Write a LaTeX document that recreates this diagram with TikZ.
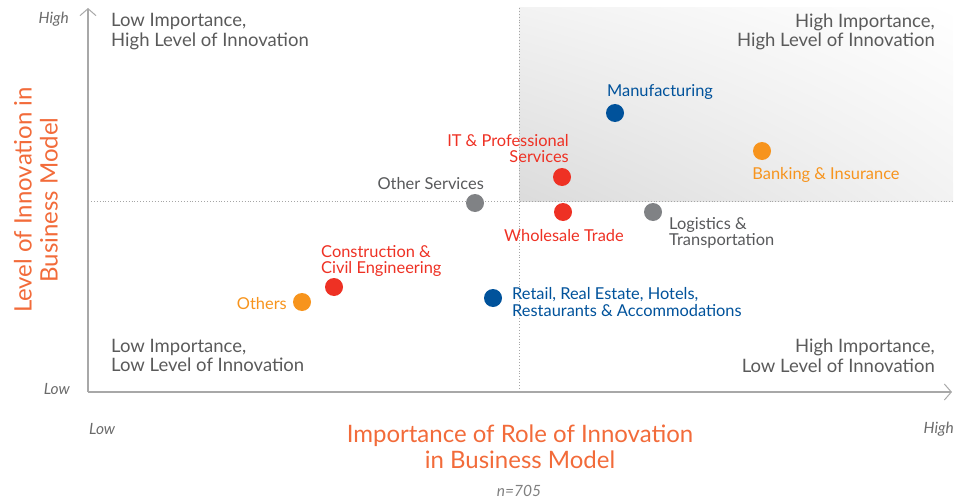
\documentclass[tikz,border=0pt]{standalone}
\usepackage{fontspec}
\setmainfont{Lato}
\usetikzlibrary{arrows.meta,shadings}
\definecolor{qgray}{HTML}{5A5A5A}
\definecolor{tgray}{HTML}{6A6A6A}
\definecolor{axgray}{HTML}{A8A8A8}
\definecolor{ttlorange}{HTML}{F26B3A}
\definecolor{dorange}{HTML}{F7941D}
\definecolor{dred}{HTML}{EE3124}
\definecolor{dblue}{HTML}{00529B}
\definecolor{dgray}{HTML}{808285}
\definecolor{lgray}{HTML}{58595B}
\tikzset{
  dot/.style={circle, fill=#1, minimum size=18pt, inner sep=0pt},
  lbl/.style={text=#1, font=\fontsize{16.4}{16.5}\selectfont, inner sep=0pt, align=left},
  quad/.style={text=qgray, font=\fontsize{18.5}{19.5}\selectfont, inner sep=0pt},
  tick/.style={text=tgray, font=\fontsize{15.5}{17}\selectfont\itshape, inner sep=0pt},
  ttl/.style={text=ttlorange, font=\fontsize{24}{26}\selectfont, inner sep=0pt, align=center},
  axis/.style={draw=axgray, line width=1.2pt, -{Straight Barb[length=7pt,width=16pt,line width=1pt]}},
  guide/.style={draw=gray!70, line width=0.9pt, dotted}
}
\begin{document}
\begin{tikzpicture}[x=1pt,y=-1pt]
\useasboundingbox (0,0) rectangle (968,500);
% shaded quadrant
\shade[lower left=black!14, lower right=black!5, upper left=black!5, upper right=white] (519,8) rectangle (953,201);
% coordinates
\coordinate (o) at (88,392);
\coordinate (ytop) at (88,8);
\coordinate (xend) at (952,392);
\coordinate (vtop) at (519,8);
\coordinate (vbot) at (519,392);
\coordinate (hl) at (88,201);
\coordinate (hr) at (953,201);
% guides
\draw[guide] (vtop) -- (vbot);
\draw[guide] (hl) -- (hr);
% axes
\draw[axis] (o) -- (ytop);
\draw[axis] (o) -- (xend);
% tick labels
\node[tick, anchor=east] (yh) at (69,19) {High};
\node[tick, anchor=east] (yl) at (70,389) {Low};
\node[tick, anchor=west] (xl) at (89,429) {Low};
\node[tick, anchor=east] (xh) at (954,429) {High};
\node[tick, text=gray] (n) at (519,491) {n=705};
% quadrant labels
\node[quad, anchor=north west, align=left] (q1) at (111,13.5) {Low Importance,\\High Level of Innovation};
\node[quad, anchor=north east, align=right] (q2) at (935,13.5) {High Importance,\\High Level of Innovation};
\node[quad, anchor=north west, align=left] (q3) at (111,339) {Low Importance,\\Low Level of Innovation};
\node[quad, anchor=north east, align=right] (q4) at (935,339) {High Importance,\\Low Level of Innovation};
% titles
\node[ttl, rotate=90] (yt) at (36,200) {Level of Innovation in\\Business Model};
\node[ttl] (xt) at (520,447) {Importance of Role of Innovation\\in Business Model};
% dots
\node[dot=dblue] (man) at (615,113) {};
\node[dot=dorange] (bank) at (762,151) {};
\node[dot=dred] (it) at (562,177) {};
\node[dot=dgray] (oth) at (475,203) {};
\node[dot=dred] (whs) at (563,212) {};
\node[dot=dgray] (log) at (653,212) {};
\node[dot=dred] (con) at (334,287) {};
\node[dot=dorange] (others) at (302,302) {};
\node[dot=dblue] (ret) at (493,298) {};
% dot labels
\node[lbl=dblue] (manl) at (660,92.5) {Manufacturing};
\node[lbl=dorange] (bankl) at (826,175) {Banking \& Insurance};
\node[lbl=dred, anchor=east, align=right] (itl) at (569,148.5) {IT \& Professional\\Services};
\node[lbl=lgray, anchor=east] (othl) at (484,184) {Other Services};
\node[lbl=dred] (whsl) at (564,236) {Wholesale Trade};
\node[lbl=lgray, anchor=west] (logl) at (669,233) {Logistics \&\\Transportation};
\node[lbl=dred, anchor=west] (conl) at (321,261) {Construction \&\\Civil Engineering};
\node[lbl=dorange, anchor=east] (othersl) at (287,303.5) {Others};
\node[lbl=dblue, anchor=west] (retl) at (512,302) {Retail, Real Estate, Hotels,\\Restaurants \& Accommodations};
\end{tikzpicture}
\end{document}
